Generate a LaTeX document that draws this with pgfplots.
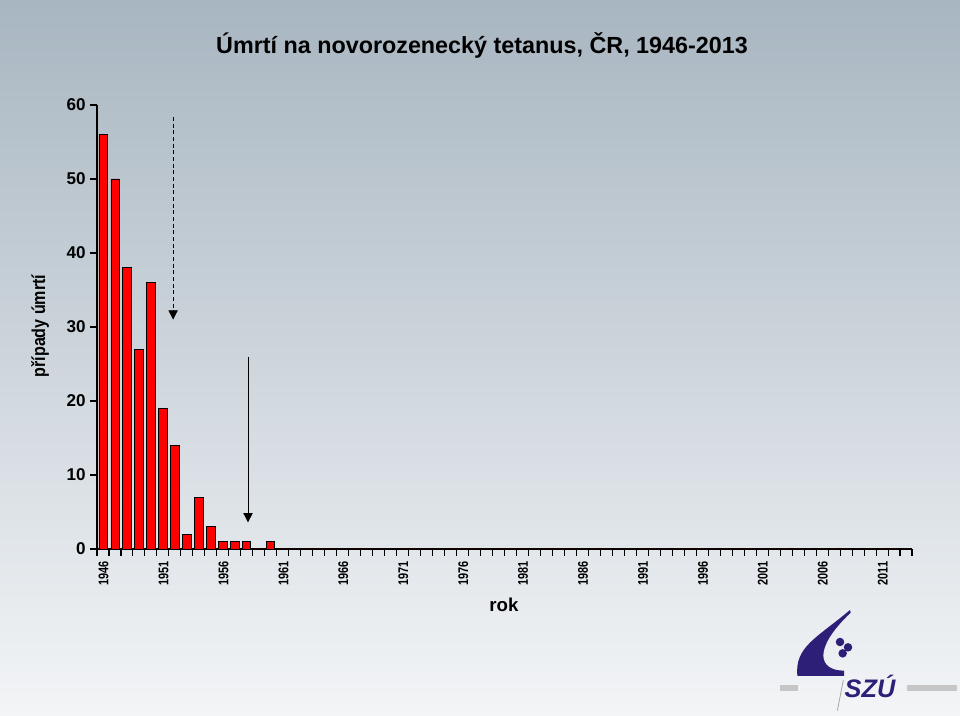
\documentclass[border=0pt]{standalone}
\usepackage{pgfplots}
\pgfplotsset{compat=1.18}
\usepackage{graphicx}
\usepackage{fontspec}
\setmainfont{Liberation Sans}
\usetikzlibrary{arrows.meta}
\definecolor{bgtop}{RGB}{168,182,193}
\definecolor{bgbot}{RGB}{243,245,247}
\definecolor{logoblue}{RGB}{45,30,120}
\newcommand\sx[1]{\scalebox{0.78}[1]{#1}}
\pgfplotstableread{
idx val
0 56
1 50
2 38
3 27
4 36
5 19
6 14
7 2
8 7
9 3
10 1
11 1
12 1
13 0
14 1
15 0
16 0
17 0
18 0
19 0
20 0
21 0
22 0
23 0
24 0
25 0
26 0
27 0
28 0
29 0
30 0
31 0
32 0
33 0
34 0
35 0
36 0
37 0
38 0
39 0
40 0
41 0
42 0
43 0
44 0
45 0
46 0
47 0
48 0
49 0
50 0
51 0
52 0
53 0
54 0
55 0
56 0
57 0
58 0
59 0
60 0
61 0
62 0
63 0
64 0
65 0
66 0
67 0
}\deaths
\begin{document}
\begin{tikzpicture}[x=1pt,y=1pt]
\shade[top color=bgtop,bottom color=bgbot] (0,0) rectangle (720,537);
\begin{axis}[
  at={(72.75pt,125.25pt)}, anchor=south west,
  scale only axis, width=611.25pt, height=333pt,
  xmin=-0.5, xmax=67.5, ymin=0, ymax=60,
  axis x line*=bottom, axis y line*=left,
  axis line style={line width=0.8pt,-},
  tick align=outside,
  major tick length=5pt, minor tick length=5pt,
  ytick={0,10,...,60},
  xtick={0,5,...,65},
  xticklabels={\sx{1946},\sx{1951},\sx{1956},\sx{1961},\sx{1966},\sx{1971},\sx{1976},\sx{1981},\sx{1986},\sx{1991},\sx{1996},\sx{2001},\sx{2006},\sx{2011}},
  minor xtick={-0.5,0.5,...,67.5},
  major x tick style={draw=none},
  minor x tick style={line width=0.8pt,black},
  y tick style={line width=0.8pt,black},
  /pgf/number format/assume math mode=true,
  yticklabel style={font=\bfseries\fontsize{12.8}{13}\selectfont},
  xticklabel style={font=\bfseries\fontsize{10.5}{10.5}\selectfont, rotate=90, anchor=east, xshift=-1pt, yshift=-0.5pt},
  ybar, bar width=0.68,
  clip=false,
]
\addplot[fill=red, draw=black, line width=0.6pt] table[x=idx,y=val]{\deaths};
\draw[densely dashed, line width=0.7pt, -{Triangle[length=7pt,width=7pt]}] (axis cs:5.85,58.4) -- (axis cs:5.85,31);
\draw[line width=0.7pt, -{Triangle[length=7pt,width=7pt]}] (axis cs:12.1,26) -- (axis cs:12.1,3.6);
\end{axis}
\node at (361.5,503) {\bfseries\fontsize{17.5}{18}\selectfont Úmrtí na novorozenecký tetanus, ČR, 1946-2013};
\node[rotate=90] at (30,292.5) {\bfseries\fontsize{14}{14}\selectfont\scalebox{0.86}[1]{případy úmrtí}};
\node at (378,83.25) {\bfseries\fontsize{14}{14}\selectfont rok};
% logo
\fill[gray!45] (585,18.75) rectangle (598.5,23.25);
\fill[gray!45] (680,18.75) rectangle (718,23.25);
\fill[logoblue] (637.5,79.5) .. controls (612,58) and (596,52) .. (598,30) -- (633,30) -- (633,34) .. controls (614,34) and (609,50) .. (638,77.5) -- cycle;
\draw[gray!70, line width=0.6pt] (632.5,27) -- (628,4);
\fill[logoblue] (630,55.5) circle (3.2);
\fill[logoblue] (636,51.5) circle (3.2);
\fill[logoblue] (632,47) circle (3.2);
\node[text=logoblue, anchor=west] at (630,22.5) {\bfseries\itshape\fontsize{19}{19}\selectfont SZÚ};
\end{tikzpicture}
\end{document}
